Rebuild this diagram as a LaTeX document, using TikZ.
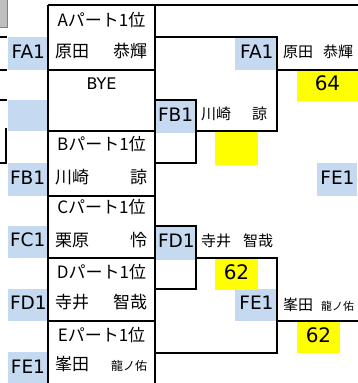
\documentclass[tikz,border=0pt]{standalone}
\usepackage{fontspec}
\usepackage{tikz}
\usepackage{xcolor}
\setmainfont{Noto Sans CJK JP}
\newfontfamily\latfont{DejaVu Sans}
\definecolor{lblue}{RGB}{197,217,241}
\definecolor{ybox}{RGB}{255,255,0}
\definecolor{gbox}{RGB}{191,191,191}
\tikzstyle{lbl} = [fill = lblue, inner sep = 2pt, text width = 35pt, align = right, text height = 13pt, text depth = 4pt, minimum height = 33pt, font = \latfont\fontsize{18.5}{20}\selectfont]
\tikzstyle{score} = [fill = ybox, inner sep = 0pt, text height = 14.6pt, text depth = 4pt, font = \latfont\fontsize{20}{22}\selectfont]
\tikzstyle{partlbl} = [inner sep = 0pt, font = \fontsize{17}{19}\selectfont]
\tikzstyle{player} = [inner sep = 0pt, anchor = west, text width = 92pt, align = left, font = \fontsize{17}{19}\selectfont]
\tikzstyle{winner} = [inner sep = 0pt, anchor = west, align = left, font = \fontsize{15}{17}\selectfont]
\tikzstyle{bline} = [line width = 2pt]

\begin{document}
\begin{tikzpicture}[x = 1pt, y = -1pt]
            \clip (0, 0) rectangle (358, 383);
            \fill [white] (0, 0) rectangle (358, 383);
            \filldraw [fill = gbox, draw = gray, line width = 0.6pt] (-2, -2) rectangle (7, 27);
            \node (la1) at (27.5, 53.5) [lbl, minimum height = 33pt] {FA1};
            \node (lb0) at (27.5, 115.5) [lbl, minimum height = 31pt] {};
            \node (lb1) at (27.5, 179.5) [lbl, minimum height = 33pt] {FB1};
            \node (lc1) at (27.5, 242) [lbl, minimum height = 32pt] {FC1};
            \node (ld1) at (27.5, 305) [lbl, minimum height = 32pt] {FD1};
            \node (le1) at (27.5, 369) [lbl, minimum height = 34pt] {FE1};
            \node (fb1) at (175.5, 116.5) [lbl, minimum width = 41pt, minimum height = 33pt] {FB1};
            \node (fd1) at (175.5, 243) [lbl, minimum width = 41pt, minimum height = 34pt] {FD1};
            \node (fa1) at (256, 53.5) [lbl, minimum width = 42pt, minimum height = 33pt] {FA1};
            \node (fe1) at (256, 305) [lbl, minimum width = 42pt, minimum height = 32pt] {FE1};
            \node (ge1) at (337, 179.5) [lbl, minimum width = 40pt, minimum height = 33pt] {FE1};
            \node (s64) at (327.5, 85.5) [score, minimum width = 61pt, minimum height = 31pt] {64};
            \node (sb) at (236.5, 148) [score, minimum width = 43pt, minimum height = 34pt] {};
            \node (s62a) at (236.5, 274) [score, minimum width = 43pt, minimum height = 32pt] {62};
            \node (s62b) at (318.5, 337) [score, minimum width = 43pt, minimum height = 32pt] {62};
            \draw [bline] (-2, 37) -- (7, 37);
            \draw [bline] (-2, 70) -- (7, 70);
            \draw [bline] (-2, 100) -- (7, 100);
            \draw [bline] (6, 128) -- (6, 163) -- (-2, 163);
            \draw [bline, line width = 2.6pt] (48, 5) -- (360, 5);
            \draw [bline] (48, 5) -- (48, 386);
            \draw [bline] (155, 5) -- (155, 386);
            \draw [bline] (48, 70) -- (155, 70);
            \draw [bline] (48, 131) -- (155, 131);
            \draw [bline] (48, 196) -- (155, 196);
            \draw [bline] (48, 258) -- (155, 258);
            \draw [bline] (48, 321) -- (155, 321);
            \draw [bline] (155, 37) -- (277, 37) -- (277, 131) -- (196, 131);
            \draw [bline] (155, 100) rectangle (196, 163);
            \draw [bline] (155, 226) rectangle (196, 289);
            \draw [bline] (196, 258) -- (277, 258) -- (277, 353) -- (155, 353);
            \draw [bline] (277, 70) -- (360, 70);
            \draw [bline] (277, 321) -- (360, 321);
            \node (pa) at (101.5, 20.5) [partlbl] {Aパート1位};
            \node (bye) at (101.5, 84) [partlbl, font = \latfont\fontsize{16}{18}\selectfont] {BYE};
            \node (pb) at (101.5, 144.5) [partlbl] {Bパート1位};
            \node (pc) at (101.5, 207.5) [partlbl] {Cパート1位};
            \node (pd) at (101.5, 272.5) [partlbl] {Dパート1位};
            \node (pe) at (101.5, 335.5) [partlbl] {Eパート1位};
            \node (na) at (55, 51) [player] {原田\hfill 恭輝};
            \node (nb) at (55, 177) [player] {川崎\hfill 諒\hspace*{10pt}};
            \node (nc) at (55, 240.5) [player] {栗原\hfill 怜\hspace*{10pt}};
            \node (nd) at (55, 302.5) [player] {寺井\hfill 智哉};
            \node (ne) at (55, 364.5) [player] {峯田\hfill {\fontsize{12}{14}\selectfont 龍ノ佑}};
            \node (wa) at (283, 52) [winner, text width = 70pt] {原田\hfill 恭輝};
            \node (wb) at (201, 114) [winner, text width = 66pt] {川崎\hfill 諒};
            \node (wd) at (201, 240.5) [winner, text width = 72pt] {寺井\hfill 智哉};
            \node (we) at (283, 305) [winner, text width = 71pt] {峯田\hfill {\fontsize{11}{13}\selectfont 龍ノ佑}};
        \end{tikzpicture}
\end{document}
